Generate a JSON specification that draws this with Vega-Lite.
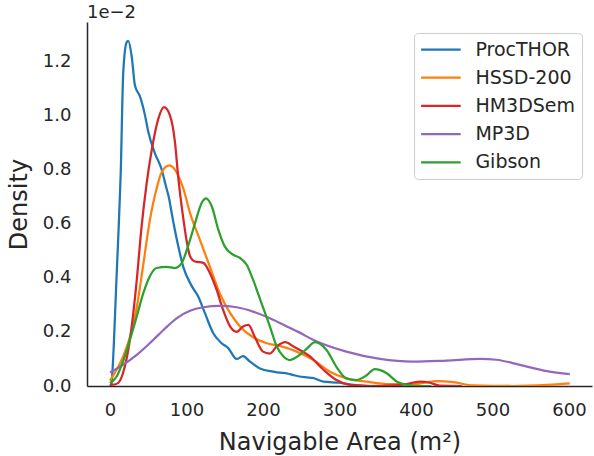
{
  "$schema": "https://vega.github.io/schema/vega-lite/v6.json",
  "width": 505,
  "height": 364,
  "autosize": {"type": "none"},
  "padding": {"left": 87, "top": 22, "right": 2, "bottom": 70},
  "background": "white",
  "config": {
    "view": {"stroke": null},
    "font": "DejaVu Sans"
  },
  "title": {"text": "1e−2", "anchor": "start", "frame": "group", "fontSize": 18, "fontWeight": "normal", "color": "#262626", "offset": 0, "font": "DejaVu Sans"},
  "datasets": {
    "kde": [
      {"dataset": "ProcTHOR", "area": 0, "density": 0.0},
      {"dataset": "ProcTHOR", "area": 2, "density": 0.01},
      {"dataset": "ProcTHOR", "area": 5, "density": 0.15},
      {"dataset": "ProcTHOR", "area": 8, "density": 0.36},
      {"dataset": "ProcTHOR", "area": 11, "density": 0.56},
      {"dataset": "ProcTHOR", "area": 14, "density": 0.78},
      {"dataset": "ProcTHOR", "area": 17.4, "density": 1.16},
      {"dataset": "ProcTHOR", "area": 21.8, "density": 1.27},
      {"dataset": "ProcTHOR", "area": 24, "density": 1.275},
      {"dataset": "ProcTHOR", "area": 28.3, "density": 1.22},
      {"dataset": "ProcTHOR", "area": 32.7, "density": 1.11},
      {"dataset": "ProcTHOR", "area": 39.2, "density": 1.07},
      {"dataset": "ProcTHOR", "area": 45.8, "density": 1.0},
      {"dataset": "ProcTHOR", "area": 50, "density": 0.94},
      {"dataset": "ProcTHOR", "area": 58.8, "density": 0.86},
      {"dataset": "ProcTHOR", "area": 67.6, "density": 0.8},
      {"dataset": "ProcTHOR", "area": 73, "density": 0.74},
      {"dataset": "ProcTHOR", "area": 77.5, "density": 0.69},
      {"dataset": "ProcTHOR", "area": 80.6, "density": 0.64},
      {"dataset": "ProcTHOR", "area": 89.3, "density": 0.516},
      {"dataset": "ProcTHOR", "area": 95.8, "density": 0.44},
      {"dataset": "ProcTHOR", "area": 106.8, "density": 0.37},
      {"dataset": "ProcTHOR", "area": 115.5, "density": 0.33},
      {"dataset": "ProcTHOR", "area": 124, "density": 0.27},
      {"dataset": "ProcTHOR", "area": 135, "density": 0.195},
      {"dataset": "ProcTHOR", "area": 146, "density": 0.158},
      {"dataset": "ProcTHOR", "area": 154.6, "density": 0.14},
      {"dataset": "ProcTHOR", "area": 165.6, "density": 0.1},
      {"dataset": "ProcTHOR", "area": 174, "density": 0.11},
      {"dataset": "ProcTHOR", "area": 183, "density": 0.09},
      {"dataset": "ProcTHOR", "area": 196, "density": 0.065},
      {"dataset": "ProcTHOR", "area": 213.5, "density": 0.053},
      {"dataset": "ProcTHOR", "area": 222, "density": 0.049},
      {"dataset": "ProcTHOR", "area": 231, "density": 0.047},
      {"dataset": "ProcTHOR", "area": 240, "density": 0.04},
      {"dataset": "ProcTHOR", "area": 246, "density": 0.036},
      {"dataset": "ProcTHOR", "area": 257, "density": 0.032},
      {"dataset": "ProcTHOR", "area": 265, "density": 0.03},
      {"dataset": "ProcTHOR", "area": 279, "density": 0.016},
      {"dataset": "ProcTHOR", "area": 300, "density": 0.012},
      {"dataset": "ProcTHOR", "area": 318, "density": 0.004},
      {"dataset": "ProcTHOR", "area": 340, "density": 0.0},
      {"dataset": "ProcTHOR", "area": 380, "density": 0.0},

      {"dataset": "HSSD-200", "area": 0, "density": 0.02},
      {"dataset": "HSSD-200", "area": 8.7, "density": 0.06},
      {"dataset": "HSSD-200", "area": 17.4, "density": 0.11},
      {"dataset": "HSSD-200", "area": 26, "density": 0.18},
      {"dataset": "HSSD-200", "area": 35, "density": 0.29},
      {"dataset": "HSSD-200", "area": 43.6, "density": 0.45},
      {"dataset": "HSSD-200", "area": 52, "density": 0.61},
      {"dataset": "HSSD-200", "area": 61, "density": 0.73},
      {"dataset": "HSSD-200", "area": 67.6, "density": 0.79},
      {"dataset": "HSSD-200", "area": 77.5, "density": 0.815},
      {"dataset": "HSSD-200", "area": 87, "density": 0.79},
      {"dataset": "HSSD-200", "area": 95.8, "density": 0.73},
      {"dataset": "HSSD-200", "area": 104.6, "density": 0.64},
      {"dataset": "HSSD-200", "area": 117.6, "density": 0.54},
      {"dataset": "HSSD-200", "area": 130.7, "density": 0.44},
      {"dataset": "HSSD-200", "area": 143.8, "density": 0.34},
      {"dataset": "HSSD-200", "area": 157, "density": 0.27},
      {"dataset": "HSSD-200", "area": 170, "density": 0.22},
      {"dataset": "HSSD-200", "area": 187, "density": 0.18},
      {"dataset": "HSSD-200", "area": 205, "density": 0.158},
      {"dataset": "HSSD-200", "area": 222, "density": 0.148},
      {"dataset": "HSSD-200", "area": 244, "density": 0.127},
      {"dataset": "HSSD-200", "area": 266, "density": 0.096},
      {"dataset": "HSSD-200", "area": 287.6, "density": 0.053},
      {"dataset": "HSSD-200", "area": 309, "density": 0.028},
      {"dataset": "HSSD-200", "area": 335.6, "density": 0.016},
      {"dataset": "HSSD-200", "area": 366, "density": 0.007},
      {"dataset": "HSSD-200", "area": 396, "density": 0.007},
      {"dataset": "HSSD-200", "area": 427, "density": 0.018},
      {"dataset": "HSSD-200", "area": 449, "density": 0.014},
      {"dataset": "HSSD-200", "area": 475, "density": 0.002},
      {"dataset": "HSSD-200", "area": 527, "density": 0.0},
      {"dataset": "HSSD-200", "area": 571, "density": 0.004},
      {"dataset": "HSSD-200", "area": 601, "density": 0.01},

      {"dataset": "HM3DSem", "area": 0, "density": 0.005},
      {"dataset": "HM3DSem", "area": 5, "density": 0.005},
      {"dataset": "HM3DSem", "area": 11, "density": 0.012},
      {"dataset": "HM3DSem", "area": 17, "density": 0.047},
      {"dataset": "HM3DSem", "area": 26, "density": 0.17},
      {"dataset": "HM3DSem", "area": 35, "density": 0.39},
      {"dataset": "HM3DSem", "area": 41, "density": 0.58},
      {"dataset": "HM3DSem", "area": 48, "density": 0.75},
      {"dataset": "HM3DSem", "area": 54.5, "density": 0.87},
      {"dataset": "HM3DSem", "area": 63, "density": 0.985},
      {"dataset": "HM3DSem", "area": 70.6, "density": 1.03},
      {"dataset": "HM3DSem", "area": 78.4, "density": 1.0},
      {"dataset": "HM3DSem", "area": 85, "density": 0.9},
      {"dataset": "HM3DSem", "area": 89.3, "density": 0.77},
      {"dataset": "HM3DSem", "area": 95.8, "density": 0.62},
      {"dataset": "HM3DSem", "area": 100, "density": 0.54},
      {"dataset": "HM3DSem", "area": 104.6, "density": 0.48},
      {"dataset": "HM3DSem", "area": 111, "density": 0.46},
      {"dataset": "HM3DSem", "area": 122, "density": 0.455},
      {"dataset": "HM3DSem", "area": 130.7, "density": 0.417},
      {"dataset": "HM3DSem", "area": 139.5, "density": 0.355},
      {"dataset": "HM3DSem", "area": 148, "density": 0.28},
      {"dataset": "HM3DSem", "area": 157, "density": 0.22},
      {"dataset": "HM3DSem", "area": 165.6, "density": 0.2},
      {"dataset": "HM3DSem", "area": 174, "density": 0.22},
      {"dataset": "HM3DSem", "area": 181, "density": 0.226},
      {"dataset": "HM3DSem", "area": 189.5, "density": 0.18},
      {"dataset": "HM3DSem", "area": 200, "density": 0.127},
      {"dataset": "HM3DSem", "area": 209, "density": 0.12},
      {"dataset": "HM3DSem", "area": 218, "density": 0.146},
      {"dataset": "HM3DSem", "area": 229, "density": 0.162},
      {"dataset": "HM3DSem", "area": 240, "density": 0.146},
      {"dataset": "HM3DSem", "area": 261, "density": 0.11},
      {"dataset": "HM3DSem", "area": 279, "density": 0.06},
      {"dataset": "HM3DSem", "area": 296, "density": 0.022},
      {"dataset": "HM3DSem", "area": 314, "density": 0.004},
      {"dataset": "HM3DSem", "area": 340, "density": 0.0},
      {"dataset": "HM3DSem", "area": 370, "density": 0.002},
      {"dataset": "HM3DSem", "area": 383, "density": 0.005},
      {"dataset": "HM3DSem", "area": 405, "density": 0.016},
      {"dataset": "HM3DSem", "area": 418, "density": 0.012},
      {"dataset": "HM3DSem", "area": 431, "density": 0.001},
      {"dataset": "HM3DSem", "area": 460, "density": 0.0},

      {"dataset": "MP3D", "area": 0, "density": 0.05},
      {"dataset": "MP3D", "area": 17, "density": 0.078},
      {"dataset": "MP3D", "area": 35, "density": 0.115},
      {"dataset": "MP3D", "area": 52, "density": 0.158},
      {"dataset": "MP3D", "area": 70, "density": 0.207},
      {"dataset": "MP3D", "area": 87, "density": 0.25},
      {"dataset": "MP3D", "area": 104.6, "density": 0.278},
      {"dataset": "MP3D", "area": 122, "density": 0.291},
      {"dataset": "MP3D", "area": 143.8, "density": 0.296},
      {"dataset": "MP3D", "area": 165.6, "density": 0.291},
      {"dataset": "MP3D", "area": 187, "density": 0.275},
      {"dataset": "MP3D", "area": 209, "density": 0.25},
      {"dataset": "MP3D", "area": 231, "density": 0.22},
      {"dataset": "MP3D", "area": 246, "density": 0.2},
      {"dataset": "MP3D", "area": 266, "density": 0.17},
      {"dataset": "MP3D", "area": 309, "density": 0.127},
      {"dataset": "MP3D", "area": 353, "density": 0.1},
      {"dataset": "MP3D", "area": 396, "density": 0.09},
      {"dataset": "MP3D", "area": 440, "density": 0.094},
      {"dataset": "MP3D", "area": 484, "density": 0.1},
      {"dataset": "MP3D", "area": 505, "density": 0.097},
      {"dataset": "MP3D", "area": 536, "density": 0.078},
      {"dataset": "MP3D", "area": 571, "density": 0.055},
      {"dataset": "MP3D", "area": 601, "density": 0.044},

      {"dataset": "Gibson", "area": 0, "density": 0.01},
      {"dataset": "Gibson", "area": 8.7, "density": 0.035},
      {"dataset": "Gibson", "area": 17, "density": 0.09},
      {"dataset": "Gibson", "area": 26, "density": 0.17},
      {"dataset": "Gibson", "area": 35, "density": 0.257},
      {"dataset": "Gibson", "area": 43.6, "density": 0.343},
      {"dataset": "Gibson", "area": 52, "density": 0.405},
      {"dataset": "Gibson", "area": 61, "density": 0.436},
      {"dataset": "Gibson", "area": 74, "density": 0.44},
      {"dataset": "Gibson", "area": 85, "density": 0.436},
      {"dataset": "Gibson", "area": 93.7, "density": 0.454},
      {"dataset": "Gibson", "area": 102, "density": 0.516},
      {"dataset": "Gibson", "area": 111, "density": 0.6},
      {"dataset": "Gibson", "area": 120, "density": 0.677},
      {"dataset": "Gibson", "area": 125.5, "density": 0.693},
      {"dataset": "Gibson", "area": 133, "density": 0.664},
      {"dataset": "Gibson", "area": 141.6, "density": 0.578},
      {"dataset": "Gibson", "area": 150, "density": 0.516},
      {"dataset": "Gibson", "area": 161, "density": 0.485},
      {"dataset": "Gibson", "area": 170, "density": 0.473},
      {"dataset": "Gibson", "area": 178.7, "density": 0.448},
      {"dataset": "Gibson", "area": 187, "density": 0.393},
      {"dataset": "Gibson", "area": 198, "density": 0.306},
      {"dataset": "Gibson", "area": 209, "density": 0.22},
      {"dataset": "Gibson", "area": 218, "density": 0.146},
      {"dataset": "Gibson", "area": 226.5, "density": 0.11},
      {"dataset": "Gibson", "area": 235, "density": 0.096},
      {"dataset": "Gibson", "area": 248, "density": 0.115},
      {"dataset": "Gibson", "area": 258, "density": 0.14},
      {"dataset": "Gibson", "area": 268, "density": 0.162},
      {"dataset": "Gibson", "area": 283, "density": 0.133},
      {"dataset": "Gibson", "area": 296, "density": 0.071},
      {"dataset": "Gibson", "area": 309, "density": 0.028},
      {"dataset": "Gibson", "area": 322.5, "density": 0.022},
      {"dataset": "Gibson", "area": 335.6, "density": 0.04},
      {"dataset": "Gibson", "area": 346, "density": 0.062},
      {"dataset": "Gibson", "area": 361.7, "density": 0.047},
      {"dataset": "Gibson", "area": 375, "density": 0.016},
      {"dataset": "Gibson", "area": 388, "density": 0.004},
      {"dataset": "Gibson", "area": 400, "density": 0.0},
      {"dataset": "Gibson", "area": 420, "density": 0.0}
    ]
  },
  "data": {"name": "kde"},
  "mark": {"type": "line", "strokeWidth": 2.25, "interpolate": "monotone", "clip": true},
  "encoding": {
    "x": {
      "field": "area", "type": "quantitative",
      "scale": {"domain": [-30, 630], "nice": false, "zero": false},
      "axis": {
        "title": "Navigable Area (m²)", "values": [0, 100, 200, 300, 400, 500, 600],
        "grid": false, "ticks": false, "tickSize": 0, "labelPadding": 15,
        "labelFontSize": 18, "labelColor": "#262626", "labelFont": "DejaVu Sans",
        "titleFontSize": 24, "titleFontWeight": "normal", "titleColor": "#262626", "titleFont": "DejaVu Sans",
        "titlePadding": 11, "domainColor": "#262626", "domainWidth": 1.5
      }
    },
    "y": {
      "field": "density", "type": "quantitative",
      "scale": {"domain": [0, 1.345], "nice": false},
      "axis": {
        "title": "Density", "values": [0, 0.2, 0.4, 0.6, 0.8, 1.0, 1.2], "format": ".1f",
        "grid": false, "ticks": false, "tickSize": 0, "labelPadding": 16,
        "labelFontSize": 18, "labelColor": "#262626", "labelFont": "DejaVu Sans",
        "titleFontSize": 24, "titleFontWeight": "normal", "titleColor": "#262626", "titleFont": "DejaVu Sans",
        "titlePadding": 11, "domainColor": "#262626", "domainWidth": 1.5
      }
    },
    "color": {
      "field": "dataset", "type": "nominal",
      "scale": {
        "domain": ["ProcTHOR", "HSSD-200", "HM3DSem", "MP3D", "Gibson"],
        "range": ["#1f77b4", "#ff7f0e", "#d62728", "#9467bd", "#2ca02c"]
      },
      "legend": {
        "title": null, "orient": "none", "legendX": 327, "legendY": 11,
        "symbolType": "M-2.2,0H2.2", "symbolSize": 324, "symbolStrokeWidth": 2.25, "symbolOffset": 10.4,
        "labelFontSize": 19, "labelColor": "#262626", "labelFont": "DejaVu Sans", "labelOffset": 24,
        "rowPadding": 7.2, "padding": 6,
        "strokeColor": "#cccccc", "fillColor": "white", "cornerRadius": 4
      }
    }
  }
}
